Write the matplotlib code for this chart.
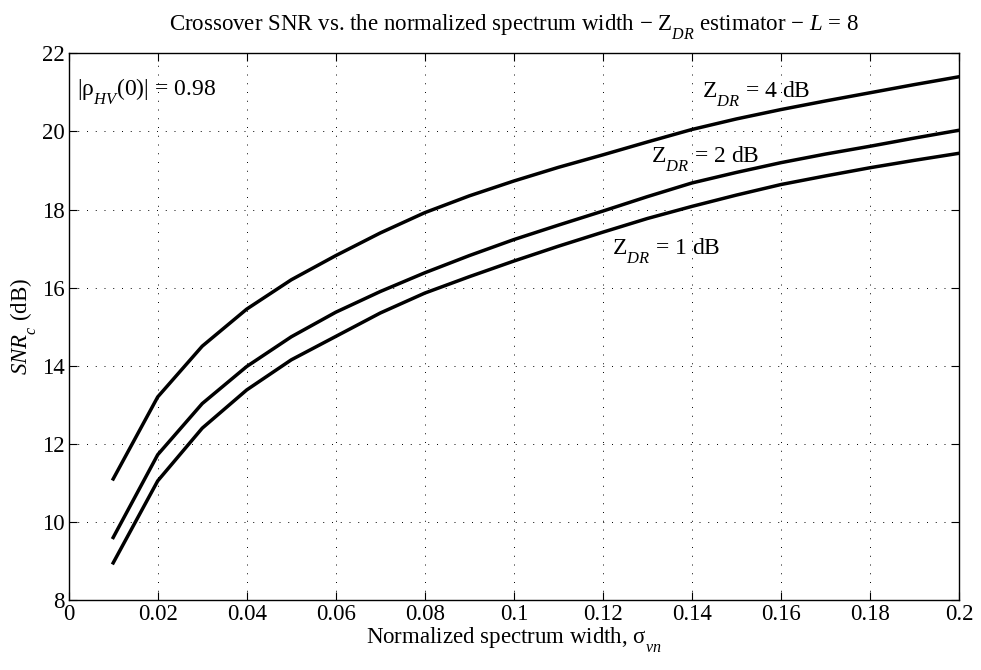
import numpy as np
import matplotlib
matplotlib.use("Agg")
import matplotlib.pyplot as plt
from matplotlib import _mathtext

plt.rcParams['font.family'] = ['Liberation Serif', 'DejaVu Serif']
plt.rcParams['mathtext.fontset'] = 'custom'
plt.rcParams['mathtext.rm'] = 'Liberation Serif'
plt.rcParams['mathtext.it'] = 'Liberation Serif:italic'
# drop subscripts lower, like the MATLAB TeX interpreter does
_mathtext.FontConstantsBase.sub1 = 0.85

# normalized spectrum width
sigma_vn = [0.01, 0.02, 0.03, 0.04, 0.05, 0.06, 0.07, 0.08, 0.09, 0.10,
            0.11, 0.12, 0.13, 0.14, 0.15, 0.16, 0.17, 0.18, 0.19, 0.20]
# crossover SNR (dB) for each Z_DR
snr_zdr4 = [11.1, 13.2, 14.5, 15.45, 16.2, 16.82, 17.4, 17.92, 18.35, 18.73,
            19.08, 19.4, 19.73, 20.05, 20.32, 20.56, 20.78, 20.99, 21.2, 21.4]
snr_zdr2 = [9.6, 11.72, 13.03, 13.98, 14.74, 15.37, 15.9, 16.38, 16.82, 17.23,
            17.6, 17.96, 18.33, 18.68, 18.95, 19.2, 19.42, 19.62, 19.83, 20.03]
snr_zdr1 = [8.95, 11.05, 12.4, 13.38, 14.15, 14.75, 15.35, 15.86, 16.28, 16.68,
            17.06, 17.42, 17.77, 18.08, 18.37, 18.64, 18.86, 19.07, 19.26, 19.44]

xticks = np.arange(0, 0.201, 0.02)
xticklabels = ['0', '0.02', '0.04', '0.06', '0.08', '0.1', '0.12', '0.14', '0.16', '0.18', '0.2']
yticks = np.arange(8, 23, 2)

fig = plt.figure(figsize=(9.81, 6.70), dpi=100)
ax = fig.add_axes([0.070, 0.1045, 0.9076, 0.8159])

for ys in (snr_zdr4, snr_zdr2, snr_zdr1):
    ax.plot(sigma_vn, ys, color='k', lw=2.5, solid_joinstyle='miter')

ax.set_xlim(0, 0.2)
ax.set_ylim(8, 22)
ax.set_xticks(xticks)
ax.set_xticklabels(xticklabels)
ax.set_yticks(yticks)
ax.tick_params(direction='in', top=True, right=True, labelsize=16.5, length=6, width=0.8, pad=3)
ax.grid(True, linestyle=(0, (1, 8)), color='k', lw=0.7)
for s in ax.spines.values():
    s.set_linewidth(1.0)

ax.set_xlabel(r'Normalized spectrum width, $\mathrm{\sigma}_{vn}$', fontsize=16.5, labelpad=0)
ax.set_ylabel(r'$SNR_c$ (dB)', fontsize=16.5, labelpad=2)
ax.set_title(r'Crossover SNR vs. the normalized spectrum width $-$ $\mathrm{Z}_{DR}$ estimator $-$ $L$ = 8',
             fontsize=16.5, pad=16)

ax.text(0.0018, 20.91, r'|$\mathrm{\rho}_{HV}$(0)| = 0.98', fontsize=17, va='baseline', ha='left')
ax.text(0.1423, 20.87, r'$\mathrm{Z}_{DR}$ = 4 dB', fontsize=17, va='baseline', ha='left')
ax.text(0.1307, 19.19, r'$\mathrm{Z}_{DR}$ = 2 dB', fontsize=17, va='baseline', ha='left')
ax.text(0.1220, 16.85, r'$\mathrm{Z}_{DR}$ = 1 dB', fontsize=17, va='baseline', ha='left')

fig.savefig('out.png', dpi=100)
